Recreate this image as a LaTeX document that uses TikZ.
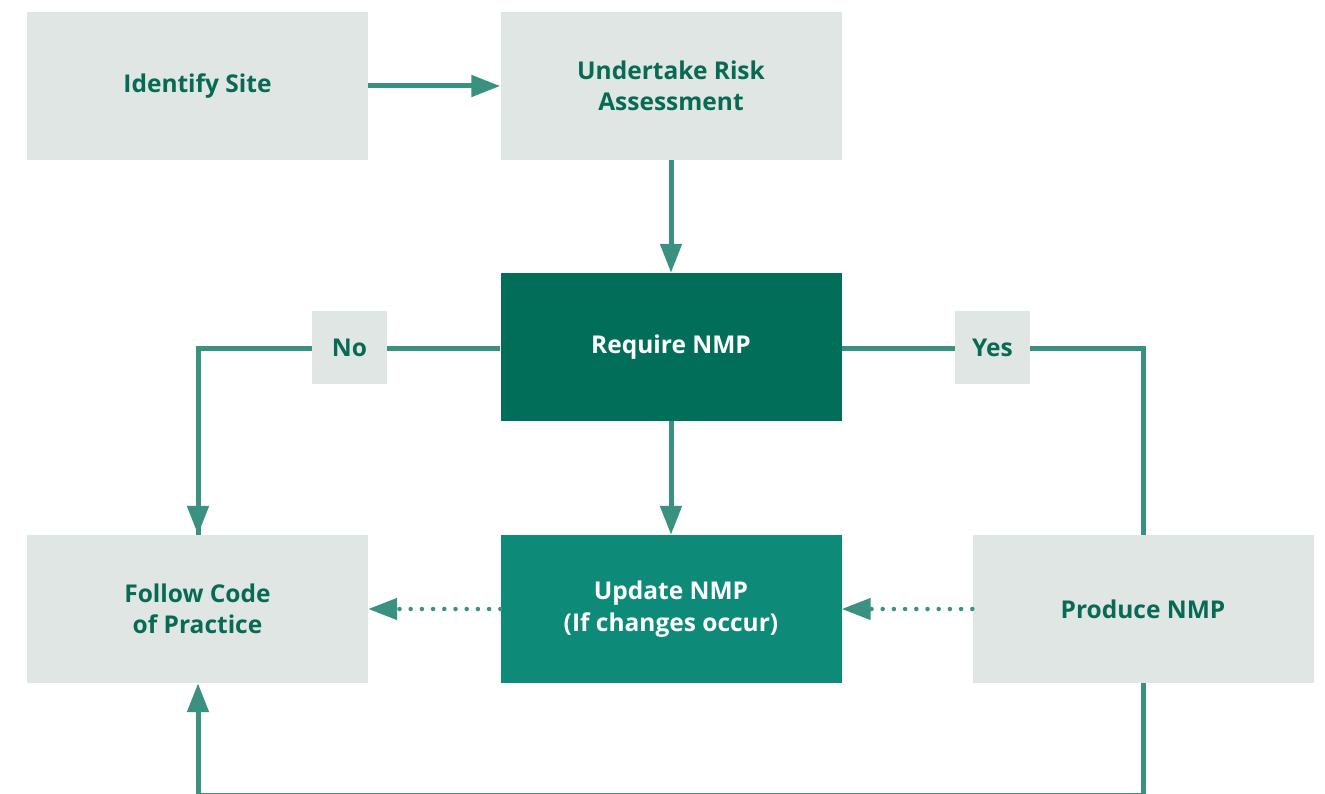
\documentclass[tikz,border=0pt]{standalone}
\usepackage{fontspec}
\setmainfont{Open Sans}
\usetikzlibrary{arrows.meta}
\definecolor{lightbox}{HTML}{DFE6E3}
\definecolor{darkbox}{HTML}{006E58}
\definecolor{midbox}{HTML}{0E8A78}
\definecolor{linec}{HTML}{3A9180}
\definecolor{textc}{HTML}{086A54}
\tikzset{
  box/.style={minimum width=341pt,minimum height=148pt,inner sep=0pt,align=center,font=\fontsize{24.5}{31.5}\selectfont\bfseries},
  lbox/.style={box,fill=lightbox,text=textc},
  dbox/.style={box,fill=darkbox,text=white},
  mbox/.style={box,fill=midbox,text=white},
  tag/.style={fill=lightbox,text=textc,minimum width=75pt,minimum height=73pt,inner sep=0pt,font=\fontsize{24.5}{28}\selectfont\bfseries},
  conn/.style={draw=linec,line width=5pt},
  arr/.style={conn,-{Triangle[length=29pt,width=21pt]}},
  dotarr/.style={draw=linec,line width=4.5pt,line cap=round,dash pattern=on 0pt off 11.2pt,-{Triangle[length=29pt,width=21pt,line cap=butt]}}
}
\begin{document}
\begin{tikzpicture}[x=1pt,y=-1pt]
\useasboundingbox (0,0) rectangle (1325,794);
\node[lbox] (ident) at (197.5,86) {Identify Site};
\node[lbox] (risk) at (671,86) {Undertake Risk\\Assessment};
\node[dbox] (req) at (671,347) {Require NMP};
\node[lbox] (follow) at (197.5,609) {Follow Code\\of Practice};
\node[mbox] (update) at (671,609) {Update NMP\\(If changes occur)};
\node[lbox] (produce) at (1143,609) {Produce NMP};
\coordinate (nocorner) at (198,348);
\coordinate (yescorner) at (1143,348);
\coordinate (bl) at (198,795);
\coordinate (br) at (1143,795);
\draw[conn] (req.west |- nocorner) -- (nocorner) -- (follow.north -| nocorner);
\draw[arr] (nocorner) ++(0,-2.5) -- (follow.north -| nocorner);
\draw[conn] (req.east |- yescorner) -- (yescorner) -- (produce.north -| yescorner);
\node[tag] (no) at (349.5,347.5) {No};
\node[tag] (yes) at (992.5,347.5) {Yes};
\draw[arr] (ident.east) -- (risk.west);
\draw[arr] (risk.south) -- (req.north);
\draw[arr] (req.south) -- (update.north);
\draw[dotarr] (update.west) -- (follow.east);
\draw[dotarr] (produce.west) -- (update.east);
\draw[conn] (produce.south -| br) -- (br) -- (bl) -- ([yshift=-20pt]follow.south -| bl);
\draw[arr] ([yshift=-30pt]follow.south -| bl) -- (follow.south -| bl);
\end{tikzpicture}
\end{document}
